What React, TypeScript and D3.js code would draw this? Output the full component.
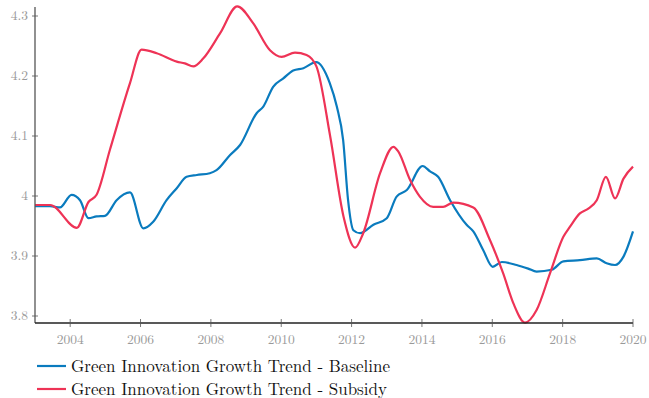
import React from "react";
import * as d3 from "d3";

const baselineYears = [2003, 2003.43, 2003.71, 2004.04, 2004.28, 2004.52, 2004.75, 2004.99, 2005.32, 2005.7, 2006.08, 2006.36, 2006.74, 2007.03, 2007.31, 2007.6, 2007.97, 2008.16, 2008.54, 2008.83, 2009.3, 2009.49, 2009.77, 2010.06, 2010.34, 2010.63, 2010.99, 2011.38, 2011.58, 2011.76, 2011.9, 2012.05, 2012.24, 2012.62, 2013.0, 2013.28, 2013.57, 2014.02, 2014.23, 2014.46, 2014.8, 2015.27, 2015.46, 2015.74, 2016.01, 2016.27, 2016.69, 2017.02, 2017.26, 2017.69, 2018.02, 2018.49, 2018.97, 2019.25, 2019.49, 2019.73, 2020];
const baselineValues = [3.983, 3.983, 3.981, 4.002, 3.993, 3.963, 3.966, 3.967, 3.993, 4.006, 3.946, 3.957, 3.993, 4.013, 4.032, 4.035, 4.038, 4.043, 4.068, 4.085, 4.138, 4.149, 4.182, 4.196, 4.209, 4.213, 4.223, 4.188, 4.149, 4.093, 3.993, 3.943, 3.938, 3.952, 3.963, 3.999, 4.01, 4.05, 4.041, 4.032, 3.993, 3.952, 3.941, 3.91, 3.882, 3.89, 3.885, 3.879, 3.874, 3.877, 3.891, 3.893, 3.896, 3.888, 3.885, 3.899, 3.941];

const subsidyYears = [2003, 2003.43, 2004.19, 2004.52, 2004.75, 2005.13, 2005.7, 2006.03, 2006.46, 2007.03, 2007.26, 2007.5, 2007.78, 2008.26, 2008.75, 2009.2, 2009.68, 2010.01, 2010.39, 2010.72, 2011.0, 2011.39, 2011.77, 2012.1, 2012.33, 2012.81, 2013.19, 2013.33, 2013.66, 2013.94, 2014.32, 2014.6, 2014.89, 2015.46, 2015.93, 2016.31, 2016.6, 2016.93, 2017.26, 2017.64, 2018.02, 2018.21, 2018.49, 2018.73, 2018.97, 2019.23, 2019.49, 2019.73, 2020];
const subsidyValues = [3.985, 3.985, 3.947, 3.99, 4.002, 4.077, 4.188, 4.244, 4.238, 4.224, 4.221, 4.216, 4.229, 4.271, 4.316, 4.288, 4.243, 4.232, 4.239, 4.235, 4.216, 4.1, 3.966, 3.914, 3.938, 4.038, 4.082, 4.074, 4.027, 3.999, 3.982, 3.982, 3.989, 3.981, 3.927, 3.871, 3.821, 3.789, 3.81, 3.871, 3.932, 3.949, 3.971, 3.979, 3.993, 4.032, 3.996, 4.029, 4.049];

const xTicks = [2004, 2006, 2008, 2010, 2012, 2014, 2016, 2018, 2020];
const yTicks = [3.8, 3.9, 4.0, 4.1, 4.2, 4.3];
const seriesNames = ["Green Innovation Growth Trend - Baseline", "Green Innovation Growth Trend - Subsidy"];
const seriesColors = ["#0A7BBE", "#EE3356"];

const W = 649;
const H = 398;
const FONT = "'Latin Modern Roman', 'CMU Serif', 'Liberation Serif', serif";

export default function App() {
  const x = d3.scaleLinear().domain([2003, 2020]).range([35, 633]);
  const y = d3.scaleLinear().domain([3.8, 4.3]).range([316, 16]);
  const line = d3
    .line<[number, number]>()
    .x((d) => x(d[0]))
    .y((d) => y(d[1]))
    .curve(d3.curveMonotoneX);

  const series = [
    baselineYears.map((t, i) => [t, baselineValues[i]] as [number, number]),
    subsidyYears.map((t, i) => [t, subsidyValues[i]] as [number, number]),
  ];
  const axisY = 323;
  const axisTop = 7;

  return (
    <svg
      width={W}
      height={H}
      style={{ position: "absolute", left: 0, top: 0, fontFamily: FONT }}
    >
      {series.map((s, i) => (
        <path key={i} d={line(s) || ""} fill="none" stroke={seriesColors[i]} strokeWidth={2.2} strokeLinejoin="round" />
      ))}
      {/* y axis */}
      <line x1={35} x2={35} y1={axisTop} y2={axisY} stroke="#555" strokeWidth={1.3} />
      {yTicks.map((t) => (
        <g key={t}>
          <line x1={32} x2={38} y1={y(t)} y2={y(t)} stroke="#555" strokeWidth={0.8} />
          <text x={28} y={y(t)} dy="0.33em" textAnchor="end" fontSize={13.5} fill="#999">
            {d3.format("~g")(t)}
          </text>
        </g>
      ))}
      {/* x axis */}
      <line x1={35} x2={633} y1={axisY} y2={axisY} stroke="#222" strokeWidth={1.3} />
      {xTicks.map((t) => (
        <g key={t}>
          <line x1={x(t)} x2={x(t)} y1={axisY - 4} y2={axisY + 4} stroke="#555" strokeWidth={0.8} />
          <text x={x(t)} y={axisY + 21} textAnchor="middle" fontSize={13.5} fill="#999">
            {t}
          </text>
        </g>
      ))}
      {/* legend */}
      {seriesNames.map((name, i) => (
        <g key={name} transform={`translate(0, ${366 + i * 23})`}>
          <line x1={37} x2={66} y1={0} y2={0} stroke={seriesColors[i]} strokeWidth={2.2} />
          <text x={71} y={5.5} fontSize={17} fill="#111">
            {name}
          </text>
        </g>
      ))}
    </svg>
  );
}
